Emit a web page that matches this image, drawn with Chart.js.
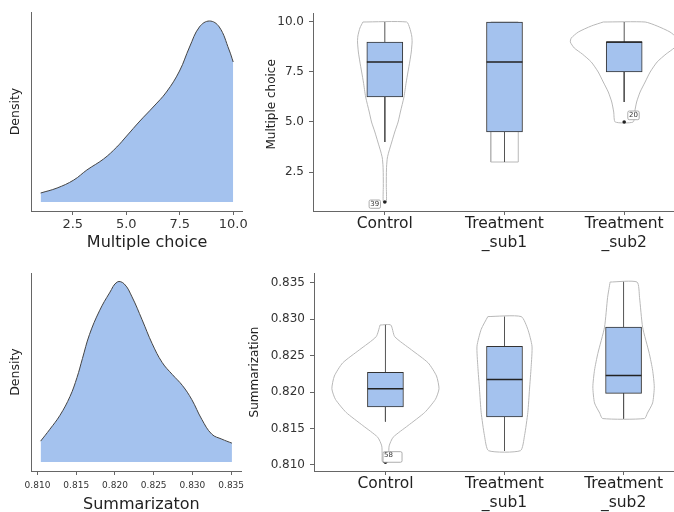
<!DOCTYPE html>
<html>
<head>
<meta charset="utf-8">
<script src="https://cdn.jsdelivr.net/npm/chart.js@4.4.1/dist/chart.umd.min.js"></script>
<style>
    html, body { margin: 0; padding: 0; background: #fff; overflow: hidden; }
    #page { position: relative; width: 674px; height: 512px; overflow: hidden; }
    .panel { position: absolute; }
</style>
</head>
<body>
<div id="page">
    <div class="panel" style="left:0;top:0;"><canvas id="mcDensity" width="250" height="256"></canvas></div>
    <div class="panel" style="left:250px;top:0;"><canvas id="mcViolin" width="450" height="256"></canvas></div>
    <div class="panel" style="left:0;top:256px;"><canvas id="sumDensity" width="250" height="262"></canvas></div>
    <div class="panel" style="left:244px;top:256px;"><canvas id="sumViolin" width="456" height="262"></canvas></div>
</div>
<script>
// --- data ---
const groupLabels = [['Control'], ['Treatment', '_sub1'], ['Treatment', '_sub2']];

// multiple choice: kernel density (top left)
const mcGrid    = [1.00, 1.77, 2.55, 3.16, 3.94, 4.56, 5.02, 5.64, 6.26, 6.88, 7.49, 7.96, 8.42, 8.89, 9.35, 9.81, 10.0];
const mcDensity = [0.009, 0.014, 0.022, 0.032, 0.043, 0.055, 0.066, 0.081, 0.095, 0.110, 0.131, 0.155, 0.175, 0.181, 0.175, 0.152, 0.140];
const mcTicks   = [2.5, 5.0, 7.5, 10.0];

// multiple choice: box + violin by group (top right)
const mcLow    = [4, 3, 6];
const mcQ1     = [6.25, 4.5, 7.5];
const mcMedian = [8, 8, 9];
const mcQ3     = [9, 10, 9];
const mcHigh   = [10, 10, 10];
const mcOutlierGroup = [1, 3];
const mcOutlierValue = [1, 5];
const mcOutlierId    = ['39', '20'];
const mcViolinLevels = [
    [10, 9.7, 9.3, 9.0, 8.5, 8.0, 7.0, 6.25, 5.5, 5.0, 4.5, 4.0, 3.5, 3.2, 2.8, 2.4, 1.8, 1.0],
    [10, 3],
    [10, 9.8, 9.5, 9.2, 9.0, 8.7, 8.4, 8.0, 7.5, 7.0, 6.5, 6.0, 5.5, 5.0]
];
const mcViolinWidth = [
    [0.183, 0.208, 0.225, 0.228, 0.221, 0.208, 0.179, 0.160, 0.130, 0.111, 0.083, 0.058, 0.033, 0.021, 0.015, 0.013, 0.0125, 0.0125],
    [0.115, 0.115],
    [0.175, 0.275, 0.383, 0.442, 0.450, 0.417, 0.350, 0.275, 0.217, 0.175, 0.133, 0.104, 0.0875, 0.075]
];
const mcViolinTicks = [2.5, 5.0, 7.5, 10.0];

// summarization: kernel density (bottom left)
const sumGrid    = [0.8104, 0.8116, 0.8129, 0.8142, 0.8151, 0.8158, 0.8167, 0.8180, 0.8193, 0.8203, 0.8212, 0.8222, 0.8235, 0.8248, 0.8261, 0.8274, 0.8287, 0.8299, 0.8312, 0.8325, 0.8338, 0.8351];
const sumDensity = [0.021, 0.033, 0.047, 0.066, 0.085, 0.104, 0.128, 0.152, 0.170, 0.181, 0.179, 0.166, 0.143, 0.119, 0.100, 0.088, 0.077, 0.063, 0.043, 0.028, 0.023, 0.019];
const sumTicks   = [0.810, 0.815, 0.820, 0.825, 0.830, 0.835];

// summarization: box + violin by group (bottom right)
const sumLow    = [0.81595, 0.81195, 0.81636];
const sumQ1     = [0.81795, 0.81659, 0.81982];
const sumMedian = [0.82045, 0.82173, 0.82227];
const sumQ3     = [0.82270, 0.82627, 0.82890];
const sumHigh   = [0.82923, 0.83036, 0.83513];
const sumOutlierGroup = [1];
const sumOutlierValue = [0.81036];
const sumOutlierId    = ['58'];
const sumViolinLevels = [
    [0.8292, 0.8276, 0.8258, 0.8240, 0.8222, 0.82045, 0.8190, 0.8172, 0.8154, 0.8138, 0.8126, 0.8113, 0.8104],
    [0.83036, 0.8286, 0.8263, 0.8235, 0.8204, 0.8172, 0.8140, 0.81195],
    [0.8351, 0.8330, 0.8289, 0.8253, 0.8230, 0.8207, 0.8185, 0.8171, 0.81636]
];
const sumViolinWidth = [
    [0.045, 0.078, 0.218, 0.359, 0.429, 0.450, 0.420, 0.330, 0.190, 0.065, 0.031, 0.028, 0.025],
    [0.140, 0.196, 0.231, 0.224, 0.210, 0.196, 0.168, 0.134],
    [0.113, 0.134, 0.160, 0.216, 0.244, 0.258, 0.244, 0.200, 0.176]
];
const sumViolinTicks = [0.810, 0.815, 0.820, 0.825, 0.830, 0.835];

// --- styling ---
const FONT = "'DejaVu Sans', sans-serif";
const AXIS = '#666';
const FILL = '#a4c2ee';
const EDGE = '#333';

const fixTicks = (values) => (scale) => { scale.ticks = values.map(v => ({ value: v })); };

// little boxed ids next to outliers
const tagPlugin = {
    id: 'tags',
    afterDatasetsDraw(chart, args, opts) {
        const { ctx, scales: { x, y } } = chart;
        ctx.save();
        (opts.items || []).forEach(t => {
            const px = x.getPixelForValue(t.group);
            const py = y.getPixelForValue(t.value);
            const bx = px + t.dx, by = py + t.dy;
            ctx.beginPath();
            ctx.roundRect(bx, by, t.w, t.h, 1.5);
            ctx.fillStyle = '#fff';
            ctx.fill();
            ctx.strokeStyle = '#999';
            ctx.lineWidth = 0.8;
            ctx.stroke();
            ctx.fillStyle = '#333';
            ctx.font = '7px ' + FONT;
            ctx.textBaseline = 'middle';
            ctx.textAlign = t.align;
            ctx.fillText(t.text, t.align === 'left' ? bx + 1 : bx + t.w / 2, by + t.h / 2 + (t.ty || 0));
        });
        ctx.restore();
    }
};

const densityChart = (id, grid, dens, o) => new Chart(document.getElementById(id), {
    type: 'line',
    data: {
        datasets: [{
            data: grid.map((x, i) => ({ x, y: dens[i] })),
            borderColor: '#444', borderWidth: 1, backgroundColor: FILL,
            fill: 'origin', pointRadius: 0, tension: 0.4
        }]
    },
    options: {
        responsive: false, animation: false, events: [],
        layout: { padding: o.padding },
        plugins: { legend: { display: false }, tooltip: { enabled: false } },
        scales: {
            x: {
                type: 'linear', min: o.xMin, max: o.xMax,
                afterBuildTicks: fixTicks(o.ticks),
                afterFit: s => { s.height = o.xHeight; },
                border: { color: AXIS, width: 1 },
                grid: { drawOnChartArea: false, tickLength: 4, color: AXIS },
                ticks: {
                    padding: o.tickPad, color: '#333', maxRotation: 0, autoSkip: false,
                    font: { family: FONT, size: o.tickSize },
                    callback: v => v.toFixed(o.digits)
                },
                title: {
                    display: true, text: o.title, color: '#222',
                    font: { family: FONT, size: 16 }, padding: { top: 0, bottom: o.titlePad }
                }
            },
            y: {
                type: 'linear', min: -0.009, max: 0.19,
                afterFit: s => { s.width = 31; },
                border: { color: AXIS, width: 1 },
                grid: { display: false },
                ticks: { display: false },
                title: {
                    display: true, text: 'Density', color: '#222',
                    font: { family: FONT, size: 12.5 }, padding: { top: 8, bottom: 0 }
                }
            }
        }
    }
});

const violinChart = (id, o) => {
    const datasets = [];

    o.levels.forEach((lv, g) => {
        const c = g + 1, w = o.widths[g];
        const pts = lv.map((v, i) => ({ x: c - w[i], y: v }));
        for (let i = lv.length - 1; i >= 0; i--) pts.push({ x: c + w[i], y: lv[i] });
        pts.push(pts[0]);
        datasets.push({
            type: 'line', data: pts, borderColor: '#b8b8b8', borderWidth: 1,
            pointRadius: 0, tension: lv.length > 2 ? 0.2 : 0, fill: false, order: 5
        });
    });

    const whiskers = [];
    o.q1.forEach((q, g) => {
        const c = g + 1;
        whiskers.push({ x: c, y: o.q3[g] }, { x: c, y: o.high[g] }, { x: c, y: null },
                      { x: c, y: q }, { x: c, y: o.low[g] }, { x: c, y: null });
    });
    datasets.push({
        type: 'line', data: whiskers, borderColor: '#555', borderWidth: 1,
        pointRadius: 0, spanGaps: false, fill: false, order: 4
    });

    datasets.push({
        type: 'bar', data: o.q1.map((q, g) => ({ x: g + 1, y: [q, o.q3[g]] })),
        backgroundColor: FILL, borderColor: EDGE, borderWidth: 1, borderSkipped: false,
        barThickness: 36, order: 3
    });

    const med = [];
    o.median.forEach((m, g) => {
        med.push({ x: g + 0.85, y: m }, { x: g + 1.15, y: m }, { x: g + 1, y: null });
    });
    datasets.push({
        type: 'line', data: med, borderColor: '#222', borderWidth: 1.6,
        pointRadius: 0, spanGaps: false, fill: false, order: 2
    });

    datasets.push({
        type: 'scatter', data: o.outGroup.map((g, i) => ({ x: g, y: o.outValue[i] })),
        pointRadius: 1.8, pointBackgroundColor: '#222', pointBorderWidth: 0, order: 1
    });

    return new Chart(document.getElementById(id), {
        type: 'line',
        data: { datasets },
        plugins: [tagPlugin],
        options: {
            responsive: false, animation: false, events: [],
            layout: { padding: o.padding },
            plugins: {
                legend: { display: false }, tooltip: { enabled: false },
                tags: { items: o.tags }
            },
            scales: {
                x: {
                    type: 'linear', min: 0.4, max: 3.6, offset: false,
                    afterBuildTicks: fixTicks([1, 2, 3]),
                    afterFit: s => { s.height = o.xHeight; },
                    border: { color: AXIS, width: 1 },
                    grid: { drawOnChartArea: false, offset: false, tickLength: 4, color: AXIS },
                    ticks: {
                        padding: 0, color: '#222', maxRotation: 0, autoSkip: false,
                        font: { family: FONT, size: 15.5, lineHeight: 1.22 },
                        callback: v => groupLabels[Math.round(v) - 1]
                    }
                },
                y: {
                    type: 'linear', min: o.yMin, max: o.yMax, beginAtZero: false,
                    afterBuildTicks: fixTicks(o.ticks),
                    afterFit: s => { s.width = o.yWidth; },
                    border: { color: AXIS, width: 1 },
                    grid: { drawOnChartArea: false, tickLength: 4, color: AXIS },
                    ticks: {
                        padding: 5, color: '#333',
                        font: { family: FONT, size: 12 },
                        callback: v => v.toFixed(o.digits)
                    },
                    title: {
                        display: true, text: o.title, color: '#222',
                        font: { family: FONT, size: 12 }, padding: { top: o.titlePad, bottom: 0 }
                    }
                }
            }
        }
    });
};

densityChart('mcDensity', mcGrid, mcDensity, {
    xMin: 0.55, xMax: 10.45, ticks: mcTicks, digits: 1, tickSize: 13, tickPad: 2,
    xHeight: 45, title: '    Multiple choice', titlePad: 3.4,
    padding: { top: 12, right: 7, left: 0, bottom: 0 }
});

densityChart('sumDensity', sumGrid, sumDensity, {
    xMin: 0.80916, xMax: 0.83634, ticks: sumTicks, digits: 3, tickSize: 9, tickPad: 5.6,
    xHeight: 47, title: '  Summarizaton', titlePad: 4,
    padding: { top: 17, right: 7, left: 0, bottom: 0 }
});

violinChart('mcViolin', {
    levels: mcViolinLevels, widths: mcViolinWidth,
    low: mcLow, q1: mcQ1, median: mcMedian, q3: mcQ3, high: mcHigh,
    outGroup: mcOutlierGroup, outValue: mcOutlierValue,
    yMin: 0.55, yMax: 10.45, ticks: mcViolinTicks, digits: 1,
    title: '    Multiple choice', titlePad: 14.8, yWidth: 63, xHeight: 45,
    padding: { top: 13, right: 3, left: 0, bottom: 0 },
    tags: [
        { group: mcOutlierGroup[0], value: mcOutlierValue[0], text: mcOutlierId[0], dx: -15.7, dy: -2, w: 11.4, h: 8.3, align: 'center' },
        { group: mcOutlierGroup[1], value: mcOutlierValue[1], text: mcOutlierId[1], dx: 3.6, dy: -11, w: 11.4, h: 8.7, align: 'center' }
    ]
});

violinChart('sumViolin', {
    levels: sumViolinLevels, widths: sumViolinWidth,
    low: sumLow, q1: sumQ1, median: sumMedian, q3: sumQ3, high: sumHigh,
    outGroup: sumOutlierGroup, outValue: sumOutlierValue,
    yMin: 0.80916, yMax: 0.83634, ticks: sumViolinTicks, digits: 3,
    title: 'Summarization', titlePad: 3.8, yWidth: 70, xHeight: 47,
    padding: { top: 17, right: 5, left: 0, bottom: 0 },
    tags: [
        { group: sumOutlierGroup[0], value: sumOutlierValue[0], text: sumOutlierId[0], dx: -2.4, dy: -10.6, w: 19, h: 10.6, align: 'left', ty: -1.5 }
    ]
});
</script>
</body>
</html>
